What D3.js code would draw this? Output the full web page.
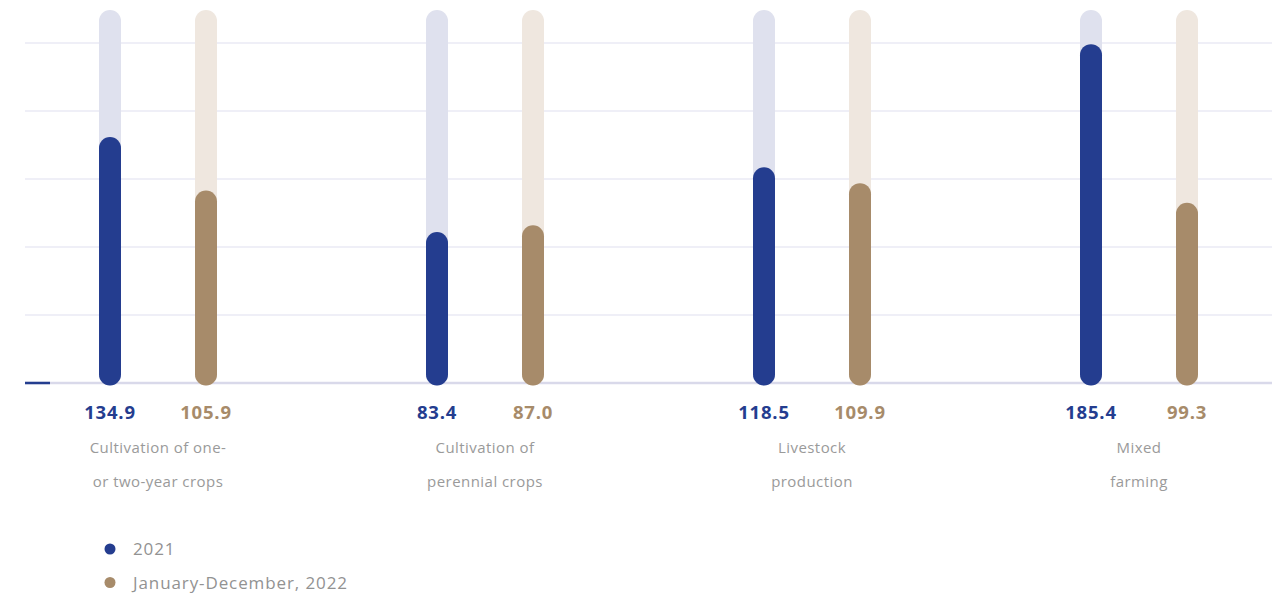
<!DOCTYPE html>
<html>
<head>
<meta charset="utf-8">
<script src="https://cdn.jsdelivr.net/npm/d3@7"></script>
<style>
  html, body { margin: 0; padding: 0; background: #ffffff; }
  svg { display: block; }
</style>
</head>
<body>
<svg id="chart" width="1285" height="593"></svg>
<script>
// Categories (each label split into two lines) and the two series
const categories = ["one", "perennial", "livestock", "mixed"];
const categoryLines = [
  ["Cultivation of one-", "or two-year crops"],
  ["Cultivation of", "perennial crops"],
  ["Livestock", "production"],
  ["Mixed", "farming"]
];
const series = ["2021", "January-December, 2022"];
const values2021 = [134.9, 83.4, 118.5, 185.4];
const values2022 = [105.9, 87.0, 109.9, 99.3];

const colors = ["#243d8f", "#a78b6a"];
const trackColors = ["#dfe1ee", "#efe7df"];

const svg = d3.select("#chart");
const font = "'Open Sans', 'Noto Sans', sans-serif";

const maxVal = d3.max(values2021.concat(values2022));

// Value scale: background tracks run to 110% of the largest value
const y = d3.scaleLinear().domain([0, maxVal * 1.1]).range([385.5, 10]);
// Decorative horizontal rules, evenly spaced
const grid = d3.scaleLinear().domain([0, 5]).range([383, 43]);
// Category centres and series offsets within each group
const x = d3.scalePoint().domain(categories).range([158, 1139]);
const xs = d3.scalePoint().domain(series).range([-48, 48]);

const barW = 22;

// Grid lines
svg.append("g").selectAll("line")
  .data(d3.range(1, 6))
  .join("line")
  .attr("x1", 25).attr("x2", 1272)
  .attr("y1", d => grid(d)).attr("y2", d => grid(d))
  .attr("stroke", "#efeff7").attr("stroke-width", 2);

// Baseline
svg.append("line")
  .attr("x1", 25).attr("x2", 1272)
  .attr("y1", grid(0)).attr("y2", grid(0))
  .attr("stroke", "#d9d9ea").attr("stroke-width", 2.5);
svg.append("line")
  .attr("x1", 25).attr("x2", 50)
  .attr("y1", grid(0)).attr("y2", grid(0))
  .attr("stroke", colors[0]).attr("stroke-width", 2.5);

const rows = categories.map((c, i) => ({
  cat: c,
  vals: [values2021[i], values2022[i]]
}));

const groups = svg.append("g").selectAll("g")
  .data(rows)
  .join("g")
  .attr("transform", d => `translate(${x(d.cat)},0)`);

// Background tracks
groups.selectAll("rect.track")
  .data(d => series.map((s, k) => ({ s, k, v: d.vals[k] })))
  .join("rect")
  .attr("class", "track")
  .attr("x", d => xs(d.s) - barW / 2)
  .attr("width", barW)
  .attr("y", y(maxVal * 1.1))
  .attr("height", y(0) - y(maxVal * 1.1))
  .attr("rx", barW / 2)
  .attr("fill", d => trackColors[d.k]);

// Value bars
groups.selectAll("rect.bar")
  .data(d => series.map((s, k) => ({ s, k, v: d.vals[k] })))
  .join("rect")
  .attr("class", "bar")
  .attr("x", d => xs(d.s) - barW / 2)
  .attr("width", barW)
  .attr("y", d => y(d.v))
  .attr("height", d => y(0) - y(d.v))
  .attr("rx", barW / 2)
  .attr("fill", d => colors[d.k]);

// Value labels
groups.selectAll("text.val")
  .data(d => series.map((s, k) => ({ s, k, v: d.vals[k] })))
  .join("text")
  .attr("class", "val")
  .attr("x", d => xs(d.s))
  .attr("y", 419)
  .attr("text-anchor", "middle")
  .attr("font-family", font)
  .attr("font-weight", 700)
  .attr("font-size", 18.5)
  .attr("letter-spacing", 0.8)
  .attr("fill", d => colors[d.k])
  .text(d => d.v.toFixed(1));

// Category labels
groups.each(function(d, i) {
  const g = d3.select(this);
  categoryLines[i].forEach((line, j) => {
    g.append("text")
      .attr("x", 0)
      .attr("y", 452.5 + j * 34)
      .attr("text-anchor", "middle")
      .attr("font-family", font)
      .attr("font-size", 15)
      .attr("letter-spacing", 0.45)
      .attr("fill", "#9a9a9a")
      .text(line);
  });
});

// Legend
const legend = svg.append("g").selectAll("g")
  .data(series)
  .join("g")
  .attr("transform", (d, i) => `translate(110,${549 + i * 33.5})`);
legend.append("circle")
  .attr("r", 5.5)
  .attr("fill", (d, i) => colors[i]);
legend.append("text")
  .attr("x", 23)
  .attr("y", 6)
  .attr("font-family", font)
  .attr("font-size", 17)
  .attr("letter-spacing", 0.9)
  .attr("fill", "#929292")
  .text(d => d);
</script>
</body>
</html>
